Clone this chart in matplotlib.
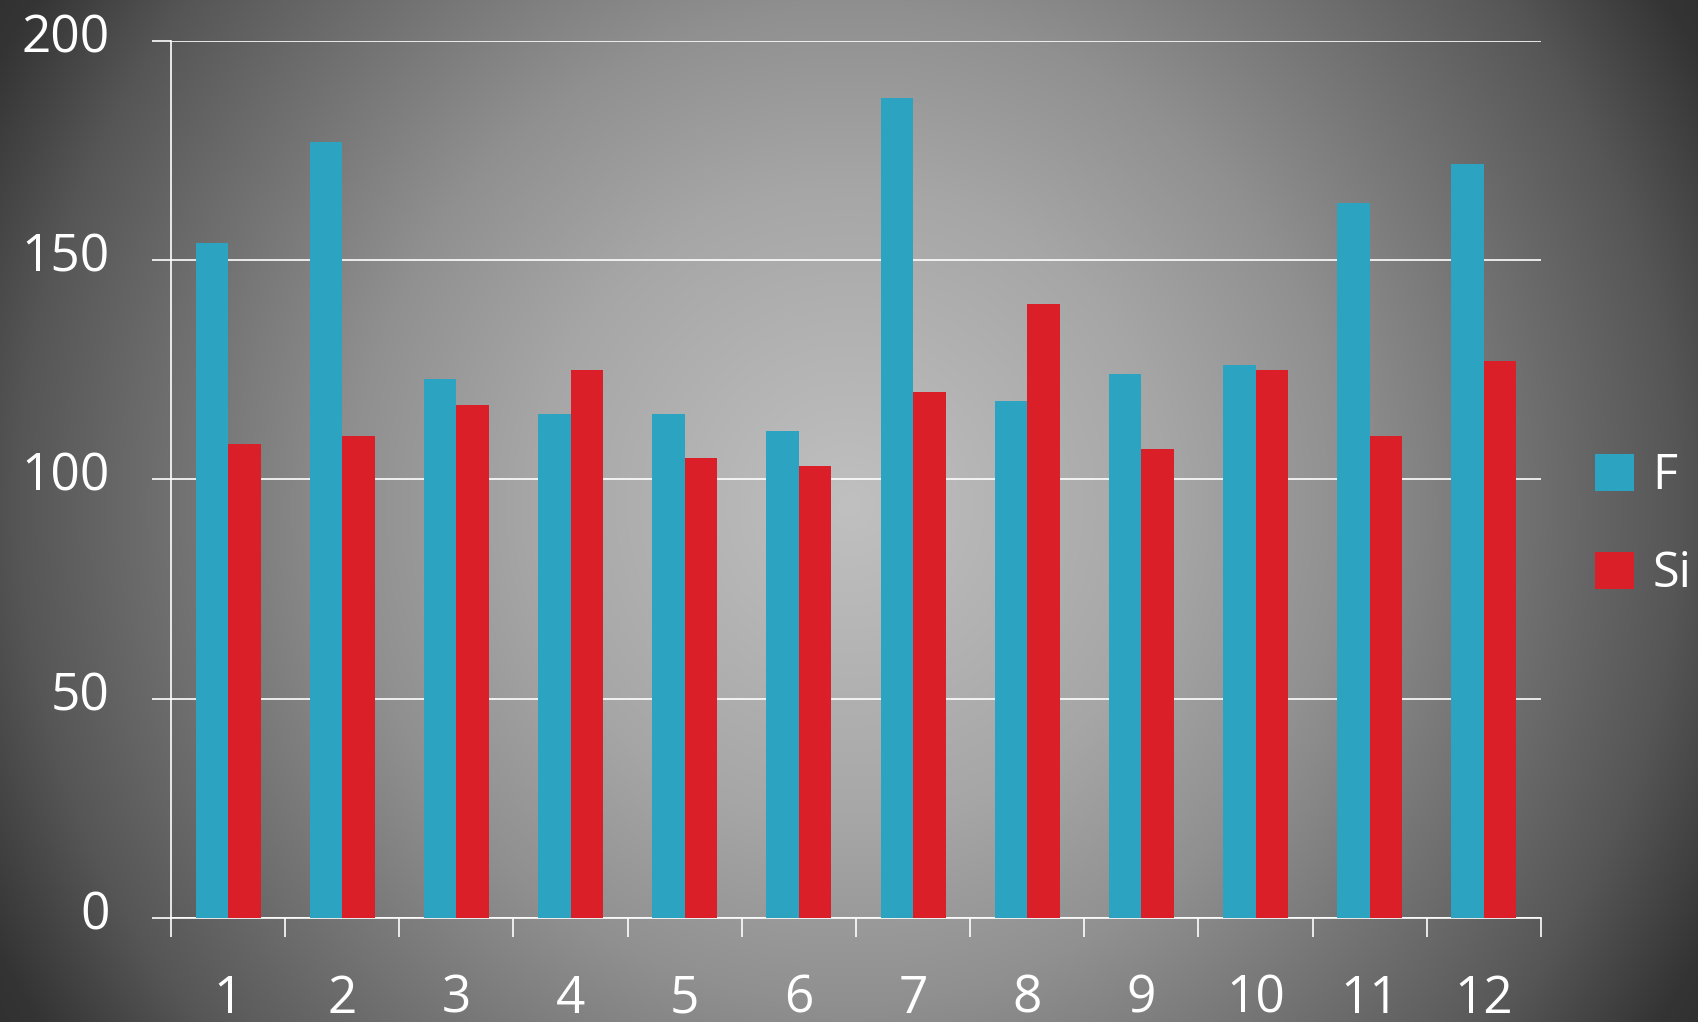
import matplotlib
matplotlib.use("Agg")
import matplotlib.pyplot as plt
import matplotlib.transforms as mtransforms
import numpy as np

# data
months = [str(i) for i in range(1, 13)]
f_vals = [154, 177, 123, 115, 115, 111, 187, 118, 124, 126, 163, 172]
si_vals = [108, 110, 117, 125, 105, 103, 120, 140, 107, 125, 110, 127]
y_ticks = [0, 50, 100, 150, 200]

blue = "#2ca3c1"
red = "#da1f28"

plt.rcParams['font.family'] = ['Open Sans', 'DejaVu Sans']

W, H = 1698, 1022
fig = plt.figure(figsize=(W / 100, H / 100), dpi=100)

# radial grey background
yy, xx = np.mgrid[0:H, 0:W]
r = np.hypot(xx - 849, yy - 505)
shade = np.interp(r, [0, 320, 496, 830, 960, 1100], [192, 166, 144, 86, 52, 40]) / 255.0
bg = fig.add_axes([0, 0, 1, 1], zorder=-10)
bg.imshow(np.dstack([shade] * 3), aspect='auto', interpolation='bilinear')
bg.axis('off')

ax = fig.add_axes([0.1007, 0.1018, 0.9075 - 0.1007, 0.9599 - 0.1018])
ax.set_facecolor('none')

x = np.arange(1, len(months) + 1)
w = 0.285
ax.bar(x - w / 2, f_vals, width=w, color=blue, label='F', zorder=3)
ax.bar(x + w / 2, si_vals, width=w, color=red, label='Si', zorder=3)

ax.set_xlim(0.5, len(months) + 0.5)
ax.set_ylim(0, 200)

ax.set_yticks(y_ticks)
ax.set_yticklabels([str(v) for v in y_ticks])
ax.set_xticks(np.arange(0.5, len(months) + 1, 1))
ax.set_xticklabels([])
ax.set_xticks(x, minor=True)
ax.set_xticklabels(months, minor=True)

ax.grid(axis='y', color='white', linewidth=1.2, zorder=1)
for s in ['top', 'right']:
    ax.spines[s].set_visible(False)
for s in ['left', 'bottom']:
    ax.spines[s].set_color('white')
    ax.spines[s].set_linewidth(1.2)

ax.tick_params(axis='y', which='major', direction='out', length=14, width=1.2,
               color='white', labelcolor='white', labelsize=37, pad=30)
ax.tick_params(axis='x', which='major', direction='out', length=14, width=1.2,
               color='white')
ax.tick_params(axis='x', which='minor', length=0, labelcolor='white',
               labelsize=37, pad=40)

# y labels sit a little above their lines
off = mtransforms.ScaledTranslation(0, 8 / 100, fig.dpi_scale_trans)
for lbl in ax.get_yticklabels():
    lbl.set_transform(lbl.get_transform() + off)

leg = fig.legend(loc='center left', bbox_to_anchor=(0.925, 0.486), frameon=False,
                 fontsize=35, labelcolor='white', handlelength=0.8, handleheight=0.8,
                 handletextpad=0.38, labelspacing=1.0, borderpad=0)

fig.savefig('out.png', dpi=100)
